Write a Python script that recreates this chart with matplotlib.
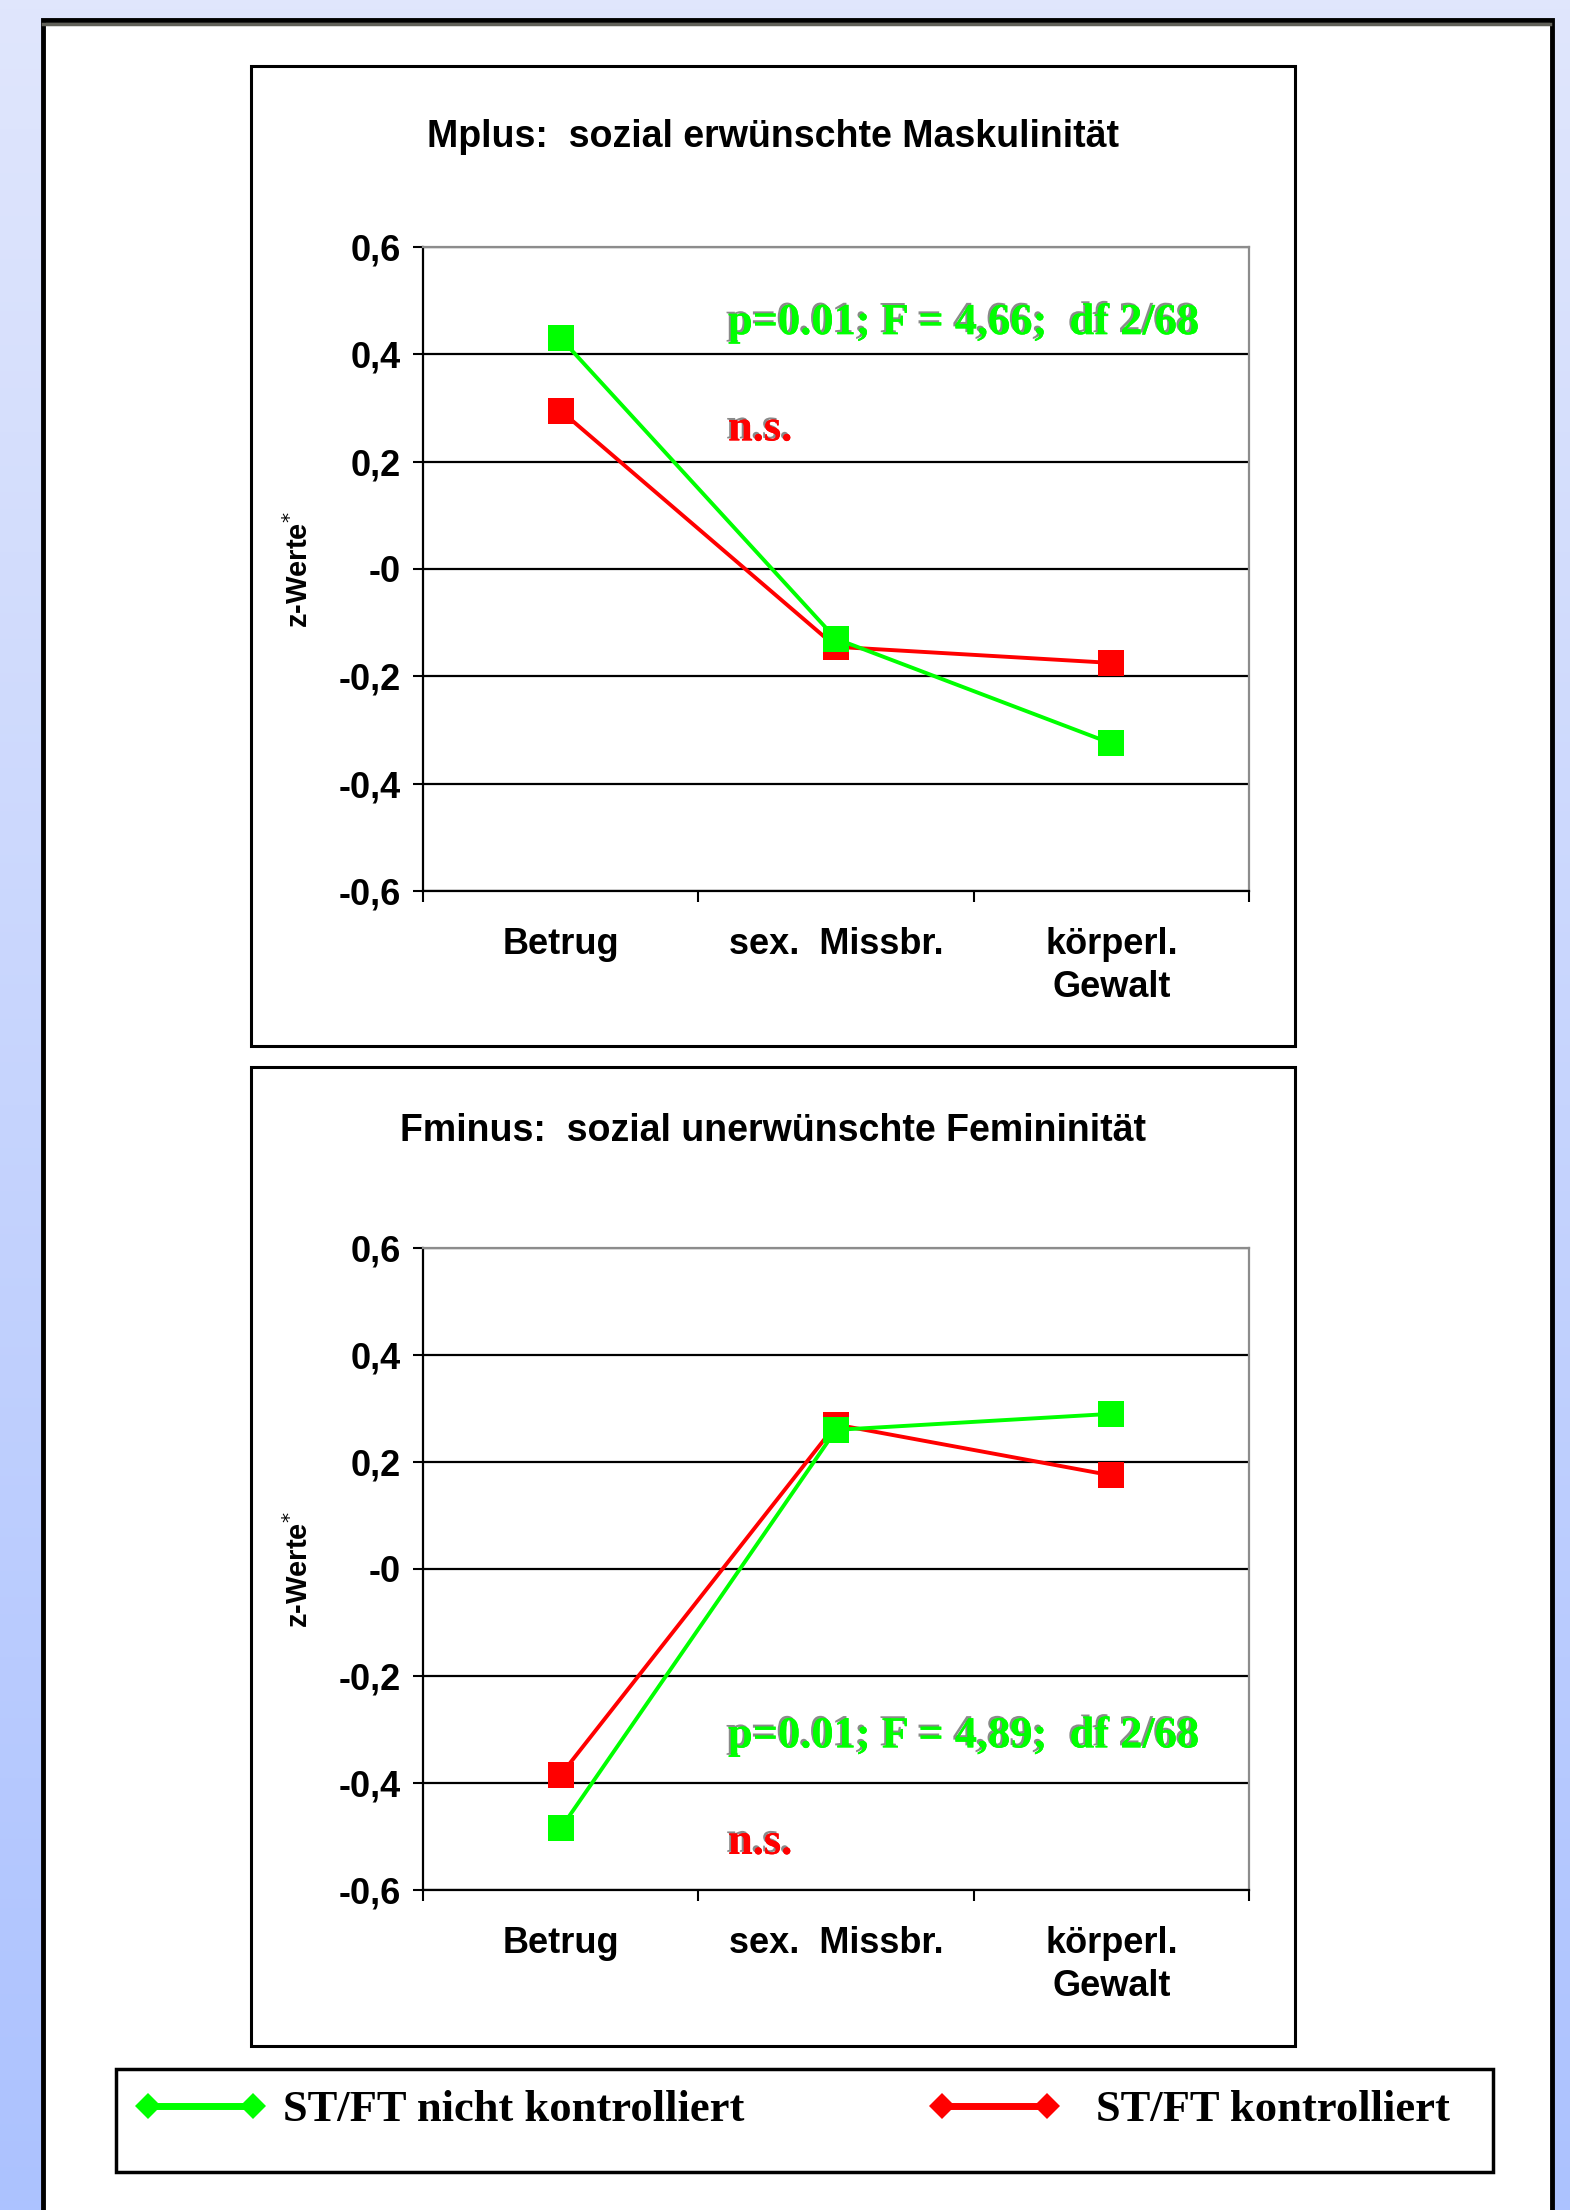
import numpy as np
import matplotlib
matplotlib.use("Agg")
from matplotlib import pyplot as plt
from matplotlib import patheffects
from matplotlib.lines import Line2D
from matplotlib.patches import Rectangle

# ---------------------------------------------------------------------------
#   dati
# ---------------------------------------------------------------------------
categories = ["Betrug", "sex.  Missbr.", "körperl.\nGewalt"]

mplus_nicht = [0.43, -0.13, -0.325]      # ST/FT nicht kontrolliert
mplus_kontr = [0.295, -0.145, -0.175]    # ST/FT kontrolliert
fminus_nicht = [-0.485, 0.26, 0.29]
fminus_kontr = [-0.385, 0.27, 0.175]

y_ticks = [-0.6, -0.4, -0.2, 0.0, 0.2, 0.4, 0.6]
y_tick_labels = ["-0,6", "-0,4", "-0,2", "-0", "0,2", "0,4", "0,6"]

title_mplus = "Mplus:  sozial erwünschte Maskulinität"
title_fminus = "Fminus:  sozial unerwünschte Femininität"
stat_mplus = "p=0.01; F = 4,66;  df 2/68"
stat_fminus = "p=0.01; F = 4,89;  df 2/68"
legend_labels = ["ST/FT nicht kontrolliert", "ST/FT kontrolliert"]

GREEN = "#00ff00"
RED = "#ff0000"
SANS = "Liberation Sans"
SERIF = "Liberation Serif"

W, H = 1570, 2210
fig = plt.figure(figsize=(W / 100, H / 100), dpi=100)

# ---------------------------------------------------------------------------
#   sfondo (gradiente azzurro) + pannello bianco, in coordinate pixel
# ---------------------------------------------------------------------------
bg = fig.add_axes([0, 0, 1, 1])
bg.set_xlim(0, W)
bg.set_ylim(H, 0)
bg.axis("off")
top_col = np.array([224, 230, 252]) / 255
bot_col = np.array([172, 194, 255]) / 255
t = np.linspace(0, 1, 256)[:, None, None]
grad = top_col * (1 - t) + bot_col * t
grad = np.repeat(grad, 2, axis=1)
bg.imshow(grad, extent=[0, W, H, 0], aspect="auto", zorder=0)

bg.add_patch(Rectangle((43, 20), 1509, H, facecolor="white", edgecolor="black", lw=3.5, zorder=1))
bg.plot([43, 1550], [23.5, 23.5], color="#606058", lw=2.5, zorder=2)

# riquadri dei due grafici e della legenda
bg.add_patch(Rectangle((251, 66), 1044, 980, facecolor="white", edgecolor="black", lw=2.2, zorder=2))
bg.add_patch(Rectangle((251, 1067), 1044, 979, facecolor="white", edgecolor="black", lw=2.2, zorder=2))
bg.add_patch(Rectangle((116, 2069), 1377, 103, facecolor="white", edgecolor="black", lw=2.5, zorder=2))

bg.text(773, 137, title_mplus, ha="center", va="center", fontsize=27,
        fontweight="bold", family=SANS, zorder=3)
bg.text(773, 1131, title_fminus, ha="center", va="center", fontsize=27,
        fontweight="bold", family=SANS, zorder=3)
for yc in [569, 1569]:
    bg.text(299, yc, "z-Werte$^{*}$", rotation=90, ha="center", va="center",
            fontsize=21, fontweight="bold", family=SANS, zorder=3)

x = np.arange(len(categories)) + 0.5
shadow = [patheffects.withSimplePatchShadow(offset=(-1.5, 1.5), shadow_rgbFace="#8a8a8a", alpha=1.0),
          patheffects.Normal()]


def draw_chart(ax, nicht, kontr, stat_text, stat_y, ns_y):
    ax.set_xlim(0, 3)
    ax.set_ylim(-0.6, 0.6)

    ax.plot(x, kontr, color=RED, lw=2.8, marker="s", ms=19, mew=0, zorder=3)
    ax.plot(x, nicht, color=GREEN, lw=2.8, marker="s", ms=19, mew=0, zorder=4)

    ax.set_yticks(y_ticks)
    ax.set_yticklabels(y_tick_labels)
    ax.set_xticks([0, 1, 2, 3])
    ax.set_xticklabels([])
    ax.set_xticks(x, minor=True)
    ax.set_xticklabels(categories, minor=True)

    ax.tick_params(axis="x", which="major", direction="out", length=8, width=1.5)
    ax.tick_params(axis="x", which="minor", length=0, pad=26, labelsize=26)
    ax.tick_params(axis="y", direction="out", length=7, width=1.5, pad=9, labelsize=26)
    for lab in ax.get_xticklabels(minor=True) + ax.get_yticklabels():
        lab.set_fontweight("bold")
        lab.set_family(SANS)
        lab.set_linespacing(1.3)

    ax.grid(axis="y", color="black", lw=1.6)
    ax.set_axisbelow(True)
    for side in ["left", "bottom"]:
        ax.spines[side].set_color("black")
        ax.spines[side].set_linewidth(1.6)
    for side in ["top", "right"]:
        ax.spines[side].set_color("#8c8c8c")
        ax.spines[side].set_linewidth(1.6)

    ax.text(1.108, stat_y, stat_text, color=GREEN, fontsize=32, fontweight="bold",
            family=SERIF, va="center", ha="left", path_effects=shadow, zorder=5)
    ax.text(1.108, ns_y, "n.s.", color=RED, fontsize=32, fontweight="bold",
            family=SERIF, va="center", ha="left", path_effects=shadow, zorder=5)


ax1 = fig.add_axes([423 / W, 1 - 891 / H, 826 / W, 644 / H])
draw_chart(ax1, mplus_nicht, mplus_kontr, stat_mplus, 0.458, 0.26)

ax2 = fig.add_axes([423 / W, 1 - 1890 / H, 826 / W, 642 / H])
draw_chart(ax2, fminus_nicht, fminus_kontr, stat_fminus, -0.313, -0.512)

# ---------------------------------------------------------------------------
#   legenda
# ---------------------------------------------------------------------------
h_green = Line2D([], [], color=GREEN, lw=5, marker="D", ms=13, mew=0)
h_red = Line2D([], [], color=RED, lw=5, marker="D", ms=13, mew=0)
leg_font = {"family": SERIF, "weight": "bold", "size": 32}

leg1 = fig.legend([h_green], [legend_labels[0]], loc="center left",
                  bbox_to_anchor=(135 / W, 1 - 2110 / H), frameon=False, numpoints=2,
                  handlelength=2.96, handletextpad=0.36, borderpad=0, borderaxespad=0,
                  prop=leg_font)
leg2 = fig.legend([h_red], [legend_labels[1]], loc="center left",
                  bbox_to_anchor=(929 / W, 1 - 2110 / H), frameon=False, numpoints=2,
                  handlelength=2.96, handletextpad=0.8, borderpad=0, borderaxespad=0,
                  prop=leg_font)

fig.savefig("out.png", dpi=100)
